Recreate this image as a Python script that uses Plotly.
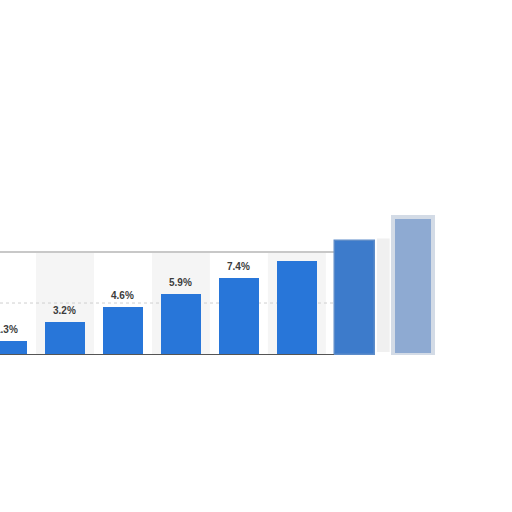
import plotly.graph_objects as go

categories = ["c1", "c2", "c3", "c4", "c5", "c6", "c7", "c8"]
values = [1.3, 3.2, 4.6, 5.9, 7.4, 9.0, 11.0, 13.3]
labels = ["1.3%", "3.2%", "4.6%", "5.9%", "7.4%", "", "", ""]
bar_colors = ["#2876d9"] * 6 + ["#3d7bcb", "#8eaad2"]
edge_colors = ["#2876d9"] * 6 + ["#5d8cc9", "#d3dbe6"]
edge_widths = [0] * 6 + [1.5, 4]

# frame of the (cropped) original plot panel, in data units
frame_left, frame_right = -0.12, 5.64
frame_top, grid_value = 9.9, 5

fig = go.Figure()

x_pos = list(range(len(categories)))
fig.add_trace(go.Bar(
    x=x_pos,
    y=values,
    marker=dict(color=bar_colors, line=dict(color=edge_colors, width=edge_widths)),
    width=0.69,
    cliponaxis=False,
    hoverinfo="skip",
))

for xi, v, lab in zip(x_pos, values, labels):
    if lab:
        fig.add_annotation(x=xi, y=v, text=lab, showarrow=False, yanchor="bottom", yshift=4,
                           font=dict(family="Liberation Sans", size=10, color="#3c3c3c", weight="bold"))

shapes = []
# alternating column shading
for i in range(1, len(categories) - 2, 2):
    shapes.append(dict(type="rect", xref="x", yref="y", x0=i - 0.5, x1=min(i + 0.5, frame_right),
                       y0=0, y1=frame_top, fillcolor="#f5f5f5", line=dict(width=0), layer="below"))
# faint haze between the blurred bars
shapes.append(dict(type="rect", xref="x", yref="y", x0=6.38, x1=6.6, y0=0.3, y1=11.2,
                   fillcolor="#f0f0f0", line=dict(width=0), layer="below"))
# dotted gridline
shapes.append(dict(type="line", xref="x", yref="y", x0=frame_left, x1=frame_right,
                   y0=grid_value, y1=grid_value, line=dict(color="#cfcfcf", width=1, dash="dot"),
                   layer="below"))
# top frame line
shapes.append(dict(type="line", xref="x", yref="y", x0=frame_left, x1=frame_right,
                   y0=frame_top, y1=frame_top, line=dict(color="#c8c8c8", width=2), layer="below"))
# baseline and its shadow
shapes.append(dict(type="line", xref="x", yref="y", x0=frame_left, x1=frame_right,
                   y0=0, y1=0, line=dict(color="#555555", width=2), layer="above"))
shapes.append(dict(type="line", xref="x", yref="y", x0=frame_left, x1=frame_right,
                   y0=-0.3, y1=-0.3, line=dict(color="#ececec", width=2), layer="below"))

fig.update_layout(
    width=512, height=512,
    margin=dict(l=0, r=0, t=197, b=157),
    paper_bgcolor="white", plot_bgcolor="white",
    showlegend=False,
    shapes=shapes,
    bargap=0,
    xaxis=dict(range=[-0.12, 8.71], showticklabels=False, showgrid=False, zeroline=False,
               showline=False, ticks=""),
    yaxis=dict(range=[0, 15.2], showticklabels=False, showgrid=False, zeroline=False, ticks=""),
)

fig.write_html("out.html", config={"displayModeBar": False},
               post_script="document.body.style.margin='0';")
